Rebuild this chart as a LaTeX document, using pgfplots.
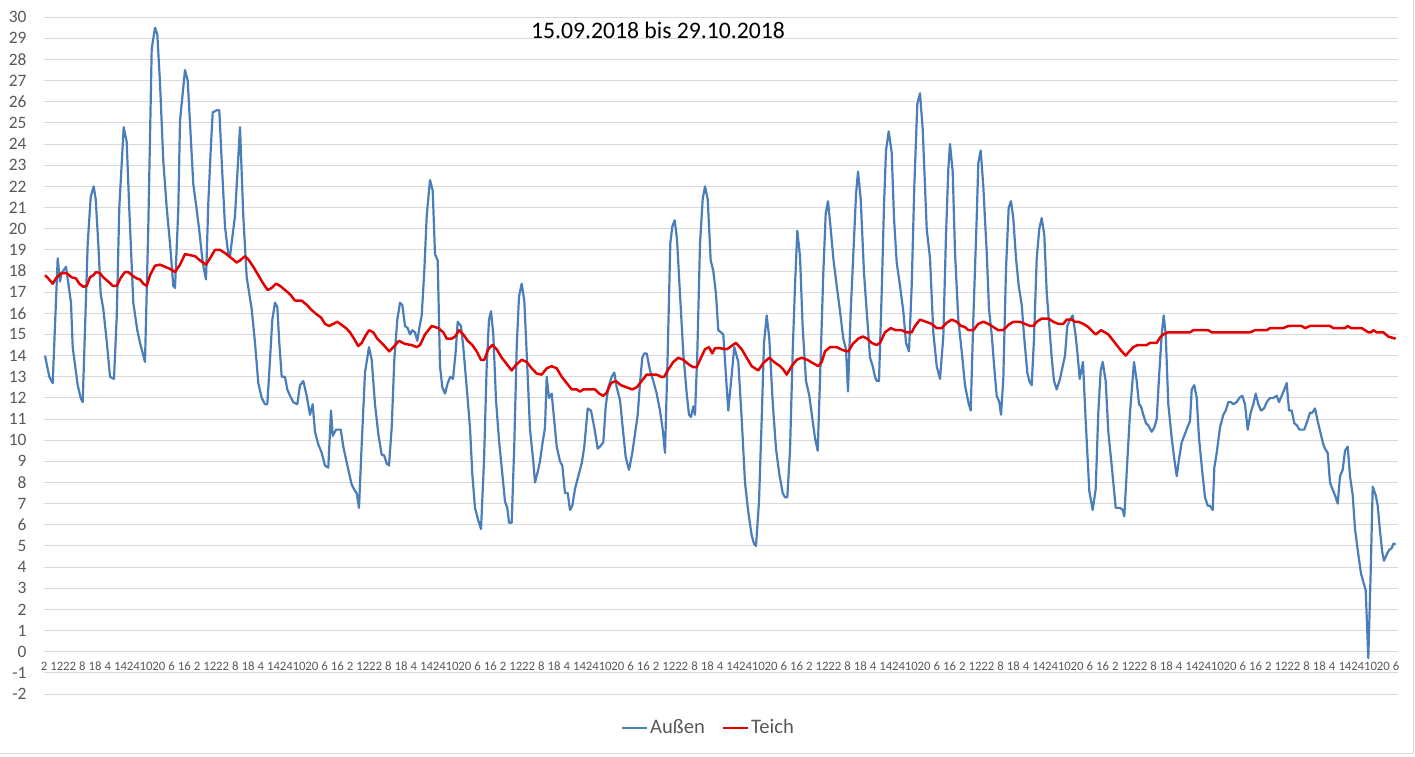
\documentclass[border=0pt]{standalone}
\usepackage{fontspec}
\setmainfont{Carlito}
\usepackage{pgfplots}
\pgfplotsset{compat=1.18}
\definecolor{aussen}{RGB}{74,126,187}
\definecolor{teich}{RGB}{228,0,0}
\definecolor{gridc}{RGB}{217,217,217}
\definecolor{txt}{RGB}{89,89,89}
\begin{document}
\begin{tikzpicture}
\useasboundingbox (0,0) rectangle (707.5pt,378pt);
\draw[gridc, line width=0.5pt] (0,1.5pt) -- (706.5pt,1.5pt) -- (706.5pt,378pt);
\begin{axis}[
  at={(21.75pt,31pt)}, anchor=south west,
  scale only axis, width=677.25pt, height=338.4pt,
  xmin=43.5, xmax=1398, ymin=-2, ymax=30,
  ytick={-2,-1,...,30},
  xtick={44,56.7547,...,1397},
  xticklabels={2,12,22,8,18,4,14,24,10,20,6,16,
               2,12,22,8,18,4,14,24,10,20,6,16,
               2,12,22,8,18,4,14,24,10,20,6,16,
               2,12,22,8,18,4,14,24,10,20,6,16,
               2,12,22,8,18,4,14,24,10,20,6,16,
               2,12,22,8,18,4,14,24,10,20,6,16,
               2,12,22,8,18,4,14,24,10,20,6,16,
               2,12,22,8,18,4,14,24,10,20,6,16,
               2,12,22,8,18,4,14,24,10,20,6},
  axis line style={draw=none},
  major tick length=0pt,
  ymajorgrids, grid style={gridc, line width=0.5pt},
  /pgf/number format/assume math mode=true,
  yticklabel style={font=\fontsize{8.7}{10}\selectfont, text=txt, anchor=east, inner sep=0pt, xshift=-8.3pt},
  xticklabel style={font=\fontsize{6.4}{7}\selectfont, text=txt, anchor=center, inner sep=0pt, yshift=14pt},
  legend style={at={(0.4909,-0.0502)}, anchor=center, draw=none, fill=none,
    font=\fontsize{10.3}{12}\selectfont, text=txt, legend columns=2,
    nodes={inner sep=1.2pt},
    /tikz/every even column/.append style={column sep=7pt}},
  legend image code/.code={\draw[#1] (0pt,0pt) -- (12.5pt,0pt);},
  clip=false,
]
\addplot[aussen, line width=1.1pt, line join=round] coordinates {
(45,14.0)(49.3,13.0)(52.7,12.7)(57.7,18.6)(60,17.5)(61.7,17.9)(66,18.2)(71,16.5)(72.7,14.4)(77.7,12.6)(80.7,12.0)(82.7,11.8)(87.7,19.3)(90.7,21.5)(93.7,22.0)(95.7,21.4)(98.3,19.3)(100.7,16.9)(103.3,16.2)(106.7,14.7)(110,13.0)(114,12.9)(116.7,15.8)(119.3,21.0)(123.7,24.8)(126.7,24.1)(129.3,20.9)(133.3,16.5)(137.3,15.2)(140,14.6)(145,13.7)(148.3,20.1)(151.7,28.5)(155,29.5)(157.3,29.2)(160,26.9)(163.3,23.2)(166.7,21.0)(170,19.3)(173.3,17.3)(175,17.2)(178.3,20.9)(180,25.1)(185,27.5)(187.7,27.0)(190,25.0)(193.3,22.1)(196.7,20.9)(199.3,19.9)(202.7,18.4)(206,17.6)(208.3,21.2)(210.7,23.7)(212.7,25.5)(216.7,25.6)(219.3,25.6)(221.7,23.2)(225,20.1)(228.3,18.8)(230,18.7)(235,20.6)(240,24.8)(243.3,20.6)(246.7,17.7)(251.7,16.2)(255,14.6)(258.3,12.7)(261.7,12.0)(265,11.7)(267.3,11.7)(270,13.8)(272.3,15.7)(275,16.5)(277.3,16.3)(279.3,14.6)(281.7,13.0)(285,13.0)(287.3,12.4)(290,12.1)(293.3,11.8)(297.3,11.7)(300,12.6)(303.3,12.8)(306.7,12.1)(310,11.2)(312.7,11.7)(315,10.4)(318.3,9.8)(321.7,9.4)(325,8.8)(328.3,8.7)(331,11.4)(332.7,10.2)(336,10.5)(340.7,10.5)(343.3,9.7)(346,9.1)(349.3,8.4)(351.7,7.9)(355,7.6)(356.7,7.5)(359,6.8)(361.7,9.8)(365,13.2)(369,14.4)(371.7,13.8)(375,11.7)(378.3,10.3)(381.7,9.3)(384,9.3)(386.7,8.9)(389,8.8)
(391.7,10.6)(394.3,13.8)(397.3,15.7)(400,16.5)(402.3,16.4)(405,15.4)(407.7,15.3)(410,15.0)(412.3,15.2)(415,15.1)(417.3,14.7)(419.3,15.3)(421.7,15.9)(424.3,18.0)(426.7,20.6)(430,22.3)(432.7,21.8)(435,18.8)(437.7,18.5)(440,13.5)(442.3,12.5)(445,12.2)(447.7,12.7)(450.3,13.0)(453,12.9)(455.7,14.2)(457.7,15.6)(461,15.4)(463.3,14.4)(466.7,12.5)(470,10.6)(472.3,8.4)(475,6.8)(478.3,6.2)(481,5.8)(484,9.0)(486.7,13.5)(489,15.7)(491,16.1)(493.3,15.0)(496,11.9)(499,10.0)(501.7,8.7)(505,7.1)(507.3,6.8)(509,6.1)(511.7,6.1)(514.3,9.8)(516.7,14.4)(519,16.8)(521.7,17.4)(524.3,16.6)(526.7,14.1)(530,10.5)(533.3,9.0)(535,8.0)(537.7,8.5)(540,9.0)(542.3,9.8)(545,10.6)(546.7,13.0)(549,12.0)(551.7,12.2)(554.3,10.9)(556.7,9.7)(560,9.0)(562.3,8.8)(565,7.5)(567.7,7.5)(570,6.7)(572.3,6.9)(575,7.7)(578.3,8.3)(581.7,8.9)(584.3,9.7)(587.7,11.5)(591,11.4)(594.3,10.6)(597.7,9.6)(600,9.7)(603.3,9.9)(605.7,11.6)(608.3,12.5)(611.7,13.0)(614.3,13.2)(616.7,12.5)(620,11.9)(622.7,10.6)(625.7,9.2)(629,8.6)(632.3,9.4)(635,10.3)(637.7,11.2)(640,12.7)(642.3,13.9)(644.3,14.1)(646.7,14.1)(650,13.3)(653.3,12.8)(656.7,12.2)(660,11.4)(662.7,10.5)(665,9.4)(667.7,14.1)(670.3,19.3)(672.3,20.1)(674.7,20.4)(677,19.5)(680,16.9)(683.3,14.1)(686.7,12.2)(689,11.2)(691,11.1)(693.3,11.6)(695,11.2)(697.3,14.1)(700,19.3)(702.7,21.4)(705,22.0)(707.7,21.4)(710.7,18.5)(713.3,18.0)(716,16.9)(718.3,15.2)(721,15.1)(723.3,15.0)(726.7,12.5)(728.3,11.4)(731.7,13.1)(734.3,14.4)
(738.3,13.7)(741.7,11.0)(745,8.0)(748.3,6.6)(751.7,5.5)(754,5.1)(756,5.0)(759,7.1)(761.7,11.0)(764,14.6)(766.7,15.9)(769.3,14.8)(772.7,11.8)(776,9.6)(779.3,8.4)(782.7,7.5)(785,7.3)(787.3,7.3)(790,9.5)(792.7,14.2)(795,17.3)(797.3,19.9)(800,18.7)(802.7,15.3)(806,12.8)(809.3,12.1)(812.7,10.9)(815,10.1)(817.7,9.5)(820.7,13.9)(823.3,17.9)(825.7,20.7)(828,21.3)(830.7,20.0)(833.3,18.6)(836.7,17.3)(840,16.1)(843.3,14.8)(846,14.3)(848,12.3)(850.7,16.1)(854,19.5)(856,21.6)(858,22.7)(860.7,21.4)(864,17.9)(866.7,16.1)(870,13.9)(872.7,13.5)(875,13.0)(876.7,12.8)(879,12.8)(881.7,17.0)(884,21.1)(886,23.7)(888.7,24.6)(891.7,23.6)(894,20.5)(896.7,18.4)(900,17.3)(903.3,16.1)(906,14.6)(909,14.2)(911.7,17.3)(914.3,22.0)(917.3,25.9)(920,26.4)(922.7,24.7)(926.7,20.0)(930,18.6)(933.3,15.1)(936.7,13.5)(940,12.9)(943.3,14.9)(946,19.7)(948.3,22.8)(950,24.0)(952.7,22.7)(955,18.9)(958.3,15.7)(961.7,14.2)(965,12.6)(968.3,11.8)(970.7,11.4)(973.3,15.7)(976.7,20.5)(978.3,23.1)(980.7,23.7)(983.3,22.0)(986.7,18.9)(989,16.2)(991.7,15.0)(994.3,13.4)(996.7,12.1)(999.3,11.8)(1001,11.2)(1003.3,12.9)(1006,18.1)(1008.7,21.0)(1011,21.3)(1013.3,20.5)(1016,18.6)(1018.7,17.3)(1021.7,16.4)(1024.3,14.8)(1027.3,13.2)(1029.3,12.8)(1031.7,12.6)(1034,14.8)(1036.7,18.6)(1039.3,20.0)(1041.7,20.5)(1044.3,19.7)(1046.7,17.0)(1049.3,15.4)(1051.7,13.9)(1054,12.8)(1056.7,12.4)(1060,12.9)(1062.7,13.5)(1065,14.0)(1067.3,15.4)(1070,15.7)(1072.7,15.9)
(1075.5,15.0)(1077.7,14.0)(1079.7,12.9)(1083,13.7)(1085.7,10.9)(1089.3,7.6)(1092.7,6.7)(1095.7,7.7)(1098.3,11.3)(1100.7,13.3)(1102.7,13.7)(1105.7,12.8)(1108.3,10.4)(1111.7,8.8)(1115.7,6.8)(1120,6.8)(1122.7,6.7)(1124.3,6.4)(1127.3,9.0)(1130,11.3)(1134,13.7)(1136.7,12.8)(1139,11.7)(1141,11.6)(1143.3,11.2)(1146,10.8)(1148.3,10.7)(1151.7,10.4)(1154.3,10.6)(1156.7,11.0)(1159.3,13.2)(1161.7,15.0)(1163.7,15.9)(1165.7,15.0)(1168.3,11.7)(1171.7,10.1)(1174.3,9.1)(1176.7,8.3)(1179,9.1)(1181.7,9.9)(1185,10.3)(1187.3,10.6)(1190,10.9)(1191.7,12.4)(1194.3,12.6)(1196.7,12.0)(1199,10.1)(1202.3,8.5)(1205,7.3)(1207.7,6.9)(1210,6.9)(1212.7,6.7)(1214.3,8.7)(1216.7,9.4)(1220,10.6)(1223.3,11.2)(1225.7,11.4)(1228.3,11.8)(1231,11.8)(1233.3,11.7)(1236.7,11.8)(1239.3,12.0)(1242.3,12.1)(1245,11.7)(1247.7,10.5)(1250.7,11.3)(1253.3,11.7)(1255.7,12.2)(1258.3,11.7)(1261,11.4)(1264,11.5)(1266.7,11.8)(1270,12.0)(1273.3,12.0)(1276.7,12.1)(1279,11.8)(1281.7,12.1)(1284.3,12.4)(1286.7,12.7)(1289,11.4)(1291.7,11.4)(1294.3,10.8)(1297,10.7)(1299.3,10.5)(1304.3,10.5)(1307.3,10.9)(1310,11.3)(1312.3,11.3)(1315,11.5)(1317.7,10.9)(1320.7,10.3)(1323.3,9.8)(1325,9.6)(1327.7,9.4)(1330,8.0)(1332.3,7.7)(1335,7.4)(1337.7,7.0)(1340,8.3)(1342.7,8.6)(1345,9.5)(1347.7,9.7)(1350,8.3)(1352.7,7.4)(1355,5.8)(1358.3,4.6)(1361,3.7)(1363.3,3.3)(1365.7,2.9)(1368.3,-0.3)(1370.7,3.8)(1372.7,7.8)(1375.7,7.4)(1377.7,6.9)(1380,5.7)(1382.3,4.7)(1384,4.3)(1386.7,4.6)(1389,4.8)(1391.7,4.9)(1393.3,5.1)(1395.7,5.1)
};
\addlegendentry{Außen}
\addplot[teich, line width=1.25pt, line join=round] coordinates {
(45,17.8)(48.3,17.65)(52.7,17.4)(56.7,17.7)(61.7,17.9)(66.7,17.9)(71.7,17.7)(76,17.65)(79.3,17.4)(83.3,17.25)(86.7,17.3)(90,17.7)(93.3,17.8)(96,17.95)(100,17.9)(103.3,17.7)(108.3,17.5)(112.7,17.3)(116.7,17.3)(121,17.7)(125,17.95)(128.3,17.95)(133.3,17.75)(136.7,17.65)(140,17.6)(143.3,17.4)(146.7,17.3)(150,17.8)(155,18.25)(160,18.3)(165,18.2)(170,18.1)(175,17.95)(180,18.3)(185,18.8)(190,18.75)(195,18.7)(200,18.5)(206,18.3)(210,18.6)(215,19.0)(220,19.0)(225,18.85)(231.7,18.6)(236.7,18.4)(240,18.5)(245,18.7)(248.3,18.55)(253.3,18.2)(258.3,17.8)(263.3,17.4)(267.7,17.1)(271.7,17.2)(276,17.4)(280,17.3)(285,17.1)(290,16.9)(295,16.6)(301.7,16.6)(306.7,16.4)(311.7,16.15)(316.7,15.95)(321,15.8)(325,15.5)(329,15.4)(333.3,15.5)(337.3,15.6)(341.7,15.45)(346,15.3)(350,15.1)(354,14.8)(358.3,14.45)(361.7,14.6)(365,14.9)(369,15.2)(373.3,15.1)(377.3,14.8)(382.7,14.55)(389.3,14.2)
(393.3,14.4)(399,14.7)(405,14.55)(411.7,14.5)(416.7,14.4)(420,14.5)(425,15.0)(431.7,15.4)(438.3,15.3)(443.3,15.1)(446.7,14.8)(451.7,14.8)(455,14.9)(459,15.2)(463.3,15.0)(467.7,14.7)(472.3,14.5)(476.7,14.2)(481,13.8)(484.3,13.8)(488.3,14.3)(492.3,14.5)(496.7,14.3)(501.7,13.9)(506.7,13.6)(511.7,13.3)(515.7,13.55)(521.7,13.8)(526.7,13.7)(531.7,13.4)(536.7,13.15)(541.7,13.1)(546.7,13.4)(551.7,13.5)(556.7,13.4)(561.7,13.0)(566.7,12.7)(571.7,12.4)(576.7,12.4)(580,12.3)(583.3,12.4)(590,12.4)(595,12.4)(599.3,12.2)(603.3,12.1)(606.7,12.25)(611,12.7)(615.7,12.8)(621,12.6)(626.7,12.5)(632.3,12.4)(636.7,12.5)(641.7,12.8)(646.7,13.1)(651.7,13.1)(656.7,13.1)(661,13.0)(664.3,13.0)(667.7,13.3)(673.3,13.7)(678.3,13.9)(683.3,13.8)(688.3,13.6)(693.3,13.45)(696.7,13.45)(701,13.9)(705,14.3)(709,14.4)(712.3,14.1)(715,14.35)(720,14.35)(726.7,14.3)(730,14.4)(734.3,14.55)
(736,14.6)(741.7,14.3)(746.7,13.9)(751.7,13.5)(758.3,13.3)(763.3,13.65)(769.3,13.9)(774,13.7)(780,13.5)(783.3,13.35)(786.7,13.1)(791.7,13.5)(796.7,13.8)(801.7,13.9)(807.3,13.8)(812.7,13.65)(818.3,13.5)(821.7,13.7)(825,14.2)(830,14.4)(836.7,14.4)(843.3,14.25)(848.3,14.2)(852.7,14.55)(858.3,14.8)(862.7,14.9)(867.3,14.8)(871.7,14.6)(876.7,14.5)(880,14.6)(885,15.1)(890.7,15.3)(895.7,15.2)(901.7,15.2)(906.7,15.1)(911.7,15.1)(915,15.4)(920,15.7)(926,15.6)(931.7,15.5)(936.7,15.3)(941.7,15.3)(946.7,15.55)(951.7,15.7)(956.7,15.6)(961,15.4)(965,15.35)(968.3,15.2)(973.3,15.2)(978.3,15.5)(983.3,15.6)(988.3,15.5)(993.3,15.35)(998.3,15.2)(1003.3,15.2)(1008.3,15.45)(1013.3,15.6)(1020,15.6)(1025,15.5)(1030,15.4)(1033.3,15.4)(1036.7,15.6)(1041.7,15.75)(1048.3,15.75)(1053.3,15.6)(1058.3,15.5)(1063.3,15.5)(1066.7,15.7)(1071.7,15.7)(1075,15.6)
(1078.3,15.6)(1083.3,15.5)(1088.3,15.35)(1092.3,15.15)(1095.7,15.0)(1101,15.2)(1105,15.1)(1108.3,15.0)(1111.7,14.8)(1116.7,14.5)(1121.7,14.2)(1125.7,14.0)(1129.3,14.2)(1133.3,14.4)(1137.7,14.5)(1141.7,14.5)(1146.7,14.5)(1150,14.6)(1156.7,14.6)(1160,14.85)(1163.3,15.0)(1167.7,15.1)(1175,15.1)(1190,15.1)(1193.3,15.2)(1208.3,15.2)(1211.7,15.1)(1225,15.1)(1250,15.1)(1255,15.2)(1266.7,15.2)(1270,15.3)(1283.3,15.3)(1288.3,15.4)(1301.7,15.4)(1305,15.3)(1310,15.4)(1330,15.4)(1333.3,15.3)(1345,15.3)(1347.7,15.4)(1351,15.3)(1361.7,15.3)(1365,15.2)(1368.3,15.1)(1371,15.1)(1373.3,15.2)(1376.7,15.1)(1383.3,15.1)(1388.3,14.9)(1391.7,14.85)(1395.7,14.8)
};
\addlegendentry{Teich}
\end{axis}
\node[font=\fontsize{11.85}{14}\selectfont, text=black, inner sep=0pt] at (329pt,362.75pt) {15.09.2018 bis 29.10.2018};
\end{tikzpicture}
\end{document}
